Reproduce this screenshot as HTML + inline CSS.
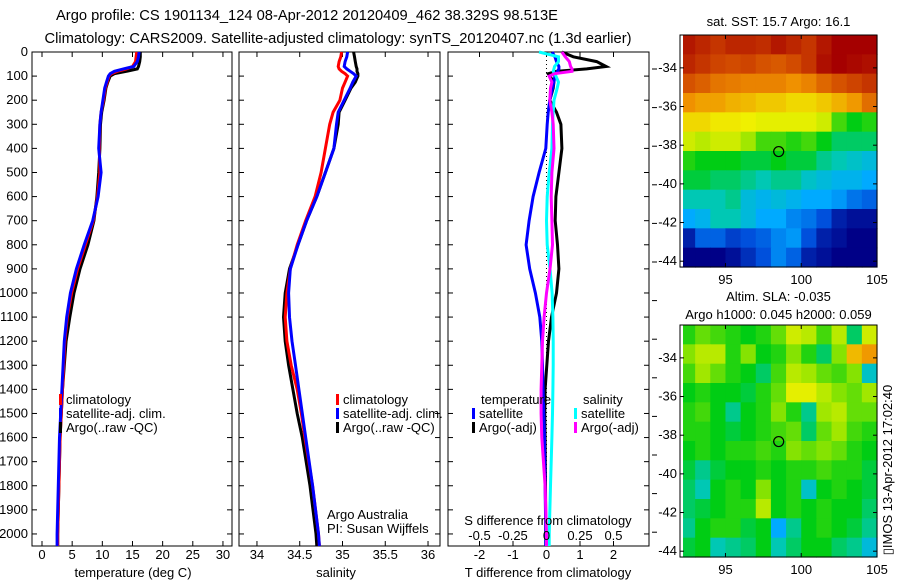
<!DOCTYPE html>
<html><head><meta charset="utf-8"><style>
body{margin:0;background:#fff;}
svg{display:block;font-family:"Liberation Sans",sans-serif;}
</style></head><body>
<svg id="fig" width="900" height="580" viewBox="0 0 900 580">
<text x="307" y="20" font-size="14.7" text-anchor="middle">Argo profile: CS 1901134_124 08-Apr-2012 20120409_462 38.329S 98.513E</text>
<text x="338" y="43" font-size="14.7" text-anchor="middle">Climatology: CARS2009. Satellite-adjusted climatology: synTS_20120407.nc (1.3d earlier)</text>
<g id="g"></g>
</svg>
<script>
const depths=[0,20,40,60,70,80,90,100,125,150,200,250,300,400,500,600,700,800,900,1000,1100,1200,1300,1400,1500,1600,1800,2000,2050];
const tArgo=[16.3,16.3,16.2,16,15.8,14,12,11.3,10.9,10.6,10.3,9.9,9.7,9.6,9.4,9.1,8.6,7.6,6.3,5.3,4.6,4.0,3.7,3.4,3.2,3.0,2.8,2.6,2.6];
const tClim=[15.7,15.6,15.5,15,14,12.5,11.5,11.1,10.8,10.5,10.2,9.8,9.6,9.5,9.6,9.2,8.5,7.2,5.9,4.9,4.2,3.8,3.6,3.4,3.2,3.0,2.8,2.6,2.6];
const tSat=[16.1,16.0,15.8,15.2,13.5,12,11.3,11,10.7,10.4,10.1,9.8,9.6,9.4,9.8,9.3,8.4,7.0,5.7,4.7,4.1,3.7,3.5,3.3,3.1,2.9,2.7,2.5,2.5];
const sArgo=[35.13,35.14,35.15,35.16,35.17,35.17,35.18,35.18,35.15,35.10,35.03,34.96,34.95,34.90,34.80,34.70,34.58,34.48,34.38,34.33,34.31,34.33,34.37,34.42,34.47,34.53,34.62,34.69,34.70];
const sClim=[34.99,34.98,34.96,34.95,34.96,34.99,35.03,35.06,35.03,35.00,34.97,34.89,34.85,34.80,34.75,34.68,34.57,34.47,34.39,34.35,34.33,34.35,34.40,34.47,34.52,34.56,34.65,34.72,34.73];
const sSat=[35.06,35.05,35.03,35.02,35.05,35.09,35.13,35.16,35.12,35.09,35.02,34.95,34.93,34.90,34.80,34.70,34.58,34.48,34.39,34.37,34.38,34.41,34.45,34.49,34.53,34.57,34.65,34.72,34.73];
const dTSat=[0.17,0.25,0.3,0.37,0.37,0.33,0.28,0.25,0.22,0.18,0.1,0.05,0.02,-0.02,-0.22,-0.4,-0.52,-0.61,-0.5,-0.33,-0.2,-0.14,-0.12,-0.1,-0.08,-0.06,-0.04,-0.02,-0.02];
const dTArgo=[0.46,0.8,1.5,1.78,1.2,0.3,0.05,0.1,0.22,0.2,0.1,0.3,0.43,0.46,0.37,0.28,0.26,0.33,0.37,0.3,0.15,0.06,0.01,-0.04,-0.05,-0.04,-0.03,-0.02,-0.02];
const dSSat=[-0.056,0.09,0.09,0.06,0.056,0.05,0.06,0.07,0.09,0.08,0.056,0.05,0.045,0.04,0.02,0.005,0,0.005,0.026,0.042,0.048,0.05,0.05,0.048,0.045,0.04,0.03,0.02,0.02];
const dSArgo=[0.115,0.14,0.17,0.18,0.19,0.19,0.06,0.02,0.04,0.03,0.025,0.04,0.05,0.056,0.04,0.035,0.04,0.045,0.026,0,-0.018,-0.03,-0.035,-0.04,-0.04,-0.035,-0.01,0,0];
const depthTicks=[0,100,200,300,400,500,600,700,800,900,1000,1100,1200,1300,1400,1500,1600,1700,1800,1900,2000];
const tTicks=[0,5,10,15,20,25,30];
const sTicks=[34,34.5,35,35.5,36];
const sTickLabels=["34","34.5","35","35.5","36"];
const dTTicks=[-2,-1,0,1,2];
const dSTicks=[-0.5,-0.25,0,0.25,0.5];
const dSTickLabels=["-0.5","-0.25","0","0.25","0.5"];
const lonTicks=[95,100,105];
const latTicks=[-34,-36,-38,-40,-42,-44];
const sstGrid=[
[92,90,88,90,90,89,92,90,88,92,95,95,95],
[90,88,86,85,86,84,83,85,88,93,95,94,93],
[84,82,79,78,77,77,77,75,77,81,84,86,88],
[75,73,73,71,70,68,68,66,66,68,71,74,80],
[66,66,64,64,63,62,62,62,62,60,50,46,48],
[60,58,60,60,56,50,50,48,50,46,42,42,42],
[48,46,46,46,44,44,46,44,44,40,38,36,34],
[44,44,42,42,40,38,40,40,36,34,32,32,30],
[38,38,38,40,34,32,34,32,30,30,28,24,22],
[30,32,38,38,34,30,30,26,24,20,14,12,12],
[14,22,22,18,20,22,26,28,20,14,12,10,10],
[10,10,10,12,16,20,26,22,14,12,10,10,10]];
const slaGrid=[
[48,52,50,48,46,48,52,60,58,50,58,42,60],
[54,58,58,48,54,46,48,54,48,42,54,70,74],
[50,56,52,48,46,42,50,58,56,52,50,54,36],
[46,48,46,46,44,48,52,62,62,58,54,52,56],
[48,50,46,40,46,48,54,48,40,56,58,52,52],
[48,48,46,44,46,48,50,52,42,52,56,50,48],
[46,48,46,48,48,50,48,54,52,54,52,48,46],
[44,40,44,46,46,48,46,48,48,50,48,48,44],
[42,38,46,48,46,54,46,48,36,46,48,46,44],
[42,44,46,48,48,58,46,48,46,48,46,46,42],
[40,46,48,48,44,46,30,40,46,48,46,44,40],
[44,46,38,40,42,46,38,42,46,46,42,40,34]];
const argoLon=98.513, argoLat=-38.329;

const FS=13;
const NS="http://www.w3.org/2000/svg";
const G=document.getElementById('g');
function mk(tag,attrs,parent){const e=document.createElementNS(NS,tag);for(const k in attrs)e.setAttribute(k,attrs[k]);(parent||G).appendChild(e);return e;}
function txt(x,y,s,size,anchor,parent){const e=mk('text',{x:x,y:y,'font-size':size,'text-anchor':anchor||'middle'},parent);e.textContent=s;return e;}
const Y0=52,Y1=546;
const yD=d=>Y0+(d/2050)*(Y1-Y0);
function panel(name,x0,x1,xmin,xmax){
  const sx=v=>x0+(v-xmin)/(xmax-xmin)*(x1-x0);
  const g=mk('g',{});
  
  
  const r=mk('rect',{x:x0,y:Y0,width:x1-x0,height:Y1-Y0,fill:'none',stroke:'#000','stroke-width':1},g);
  
  
  depthTicks.forEach(d=>{mk('line',{x1:x0,x2:x0+5,y1:yD(d),y2:yD(d),stroke:'#000'},g);mk('line',{x1:x1,x2:x1-5,y1:yD(d),y2:yD(d),stroke:'#000'},g);});
  return {g,sx};
}
function series(p,xs,color,name,w){
  const pts=depths.map((d,i)=>p.sx(xs[i]).toFixed(1)+','+yD(d).toFixed(1)).join(' ');
  const l=mk('polyline',{points:pts,fill:'none',stroke:color,'stroke-width':w||3,'stroke-linejoin':'miter'},p.g);
  
  
}
function xticks(p,ticks,labels,y){
  ticks.forEach((t,i)=>{const x=p.sx(t);mk('line',{x1:x,x2:x,y1:Y0,y2:Y0+5,stroke:'#000'},p.g);mk('line',{x1:x,x2:x,y1:Y1,y2:Y1-5,stroke:'#000'},p.g);
    const e=txt(x,y,labels?labels[i]:String(t),FS,'middle',p.g);});
}
function legendEntry(p,x,y,color,label){
  const gg=mk('g',{},p.g);
  
  
  mk('rect',{x:x,y:y-10,width:3,height:11,fill:color},gg);
  txt(x+7,y,label,FS,'start',gg);
}
depthTicks.forEach(d=>{const e=txt(28,yD(d)+4,String(d),FS,'end');});
const p1=panel('temperature-panel',32,232,-1.66,31.5);
xticks(p1,tTicks,null,559);
series(p1,tArgo,'#000','argo-temperature-line');
series(p1,tClim,'#f00','climatology-temperature-line');
series(p1,tSat,'#00f','satellite-temperature-line');
legendEntry(p1,59,404,'#f00','climatology');
legendEntry(p1,59,418,'#00f','satellite-adj. clim.');
legendEntry(p1,59,432,'#000','Argo(..raw -QC)');
let e=txt(133,577,'temperature (deg C)',FS);
const p2=panel('salinity-panel',239,440,33.79,36.14);
xticks(p2,sTicks,sTickLabels,559);
series(p2,sArgo,'#000','argo-salinity-line');
series(p2,sClim,'#f00','climatology-salinity-line');
series(p2,sSat,'#00f','satellite-salinity-line');
legendEntry(p2,336,404,'#f00','climatology');
legendEntry(p2,336,418,'#00f','satellite-adj. clim.');
legendEntry(p2,336,432,'#000','Argo(..raw -QC)');
e=txt(327,519,'Argo Australia',FS,'start');
e=txt(327,533,'PI: Susan Wijffels',FS,'start');
e=txt(336,577,'salinity',FS);
const p3=panel('difference-panel',448,649,-2.94,3.06);
const p3s={g:p3.g,sx:v=>p3.sx(v*4)};
xticks(p3,dTTicks,null,559);
dSTicks.forEach((t,i)=>{const e=txt(p3s.sx(t),540,dSTickLabels[i],FS);});
mk('line',{x1:p3.sx(0),x2:p3.sx(0),y1:Y0,y2:Y1,stroke:'#000','stroke-dasharray':'1,3'},p3.g);
series(p3,dTArgo,'#000','argo-temperature-diff-line');
series(p3,dTSat,'#00f','satellite-temperature-diff-line');
series(p3s,dSSat,'#0ff','satellite-salinity-diff-line');
series(p3s,dSArgo,'#f0f','argo-salinity-diff-line');
e=txt(481,404,'temperature',FS,'start',p3.g);
e=txt(583,404,'salinity',FS,'start',p3.g);
legendEntry(p3,472,418,'#00f','satellite');
legendEntry(p3,472,432,'#000','Argo(-adj)');
legendEntry(p3,574,418,'#0ff','satellite');
legendEntry(p3,574,432,'#f0f','Argo(-adj)');
e=txt(548,525,'S difference from climatology',FS);
e=txt(548,577,'T difference from climatology',FS);
for(let k=0;k<13;k++){mk('line',{x1:652,x2:657,y1:69+38.6*k,y2:69+38.6*k,stroke:'#000'});}
const cmV=[0,10,20,30,38,46,55,63,75,85,95,100];
const cmC=[[0,0,110],[0,0,135],[0,80,220],[0,170,255],[0,200,180],[0,205,20],[150,230,0],[240,240,0],[240,145,0],[210,75,0],[165,0,0],[150,0,0]];
function cmap(v){
  for(let i=0;i<cmV.length-1;i++){if(v<=cmV[i+1]){const f=(v-cmV[i])/(cmV[i+1]-cmV[i]);const a=cmC[i],b=cmC[i+1];
    return 'rgb('+a.map((c,k)=>Math.round(c+(b[k]-c)*f)).join(',')+')';}}
  return 'rgb(150,0,0)';
}
function map(name,grid,x0,y0,x1,y1,titles){
  const lon0=92,lon1=105,lat0=-32.3,lat1=-44.3;
  const sx=v=>x0+(v-lon0)/(lon1-lon0)*(x1-x0);
  const sy=v=>y0+(v-lat0)/(lat1-lat0)*(y1-y0);
  const g=mk('g',{});
  
  
  const nr=grid.length,nc=grid[0].length;
  grid.forEach((row,i)=>row.forEach((v,j)=>{
    const la=lat0+(lat1-lat0)*i/nr, lo=lon0+(lon1-lon0)*j/nc;
    const c=mk('rect',{x:sx(lo).toFixed(2),y:sy(la).toFixed(2),width:((x1-x0)/nc+0.6).toFixed(2),height:((y1-y0)/nr+0.6).toFixed(2),fill:cmap(v)},g);
    
    
  }));
  mk('rect',{x:x0,y:y0,width:3,height:y1-y0,fill:'#fff'},g);
  mk('rect',{x:x0,y:y0,width:x1-x0,height:y1-y0,fill:'none',stroke:'#000'},g);
  lonTicks.forEach(t=>{const x=sx(t);mk('line',{x1:x,x2:x,y1:y0,y2:y0+4,stroke:'#000'},g);mk('line',{x1:x,x2:x,y1:y1,y2:y1-4,stroke:'#000'},g);
    const e=txt(x,y1+17,String(t),FS,'middle',g);});
  latTicks.forEach(t=>{const y=sy(t);mk('line',{x1:x0,x2:x0+4,y1:y,y2:y,stroke:'#000'},g);mk('line',{x1:x1,x2:x1-4,y1:y,y2:y,stroke:'#000'},g);
    const e=txt(x0-3,y+4,String(t),FS,'end',g);});
  const ci=mk('circle',{cx:sx(argoLon),cy:sy(argoLat),r:5,fill:'none',stroke:'#000','stroke-width':1.2},g);
  
  
  titles.forEach(t=>{const e=txt((x0+x1)/2,t[1],t[0],FS,'middle',g);});
}
map('sst-map',sstGrid,680,35,877,267,[['sat. SST: 15.7 Argo: 16.1',26]]);
map('sla-map',slaGrid,680,325,877,557,[['Altim. SLA: -0.035',301],['Argo h1000: 0.045 h2000: 0.059',319]]);
e=txt(0,0,'\u25AFIMOS 13-Apr-2012 17:02:40',FS,'middle');
e.setAttribute('transform','translate(892,470) rotate(-90)');


</script>
</body></html>
